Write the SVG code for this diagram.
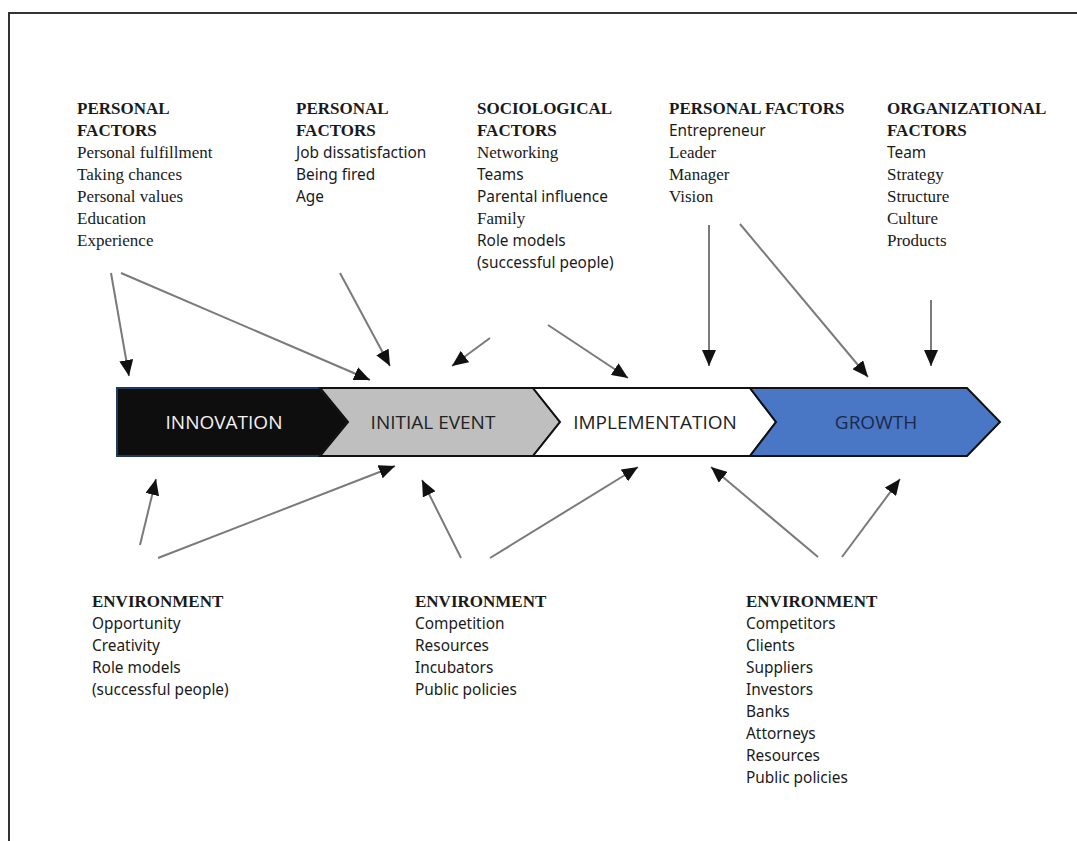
<svg xmlns="http://www.w3.org/2000/svg" width="1077" height="841" viewBox="0 0 1077 841">
<style>
.h{font-family:"Liberation Serif","Times New Roman",serif;font-weight:bold;font-size:17px;fill:#1a1a1a}
.s{font-family:"Liberation Serif","Times New Roman",serif;font-size:17px;fill:#1a1a1a}
.a{font-family:"Noto Sans","Liberation Sans",sans-serif;font-size:15.4px;fill:#1a1a1a}
.lbl{font-family:"Open Sans","Liberation Sans",sans-serif;font-size:19px;text-anchor:middle}
.c{stroke:#7a7a7a;stroke-width:2;fill:none;marker-end:url(#ah)}
</style>
<defs>
<marker id="ah" markerUnits="userSpaceOnUse" markerWidth="17" markerHeight="14" refX="16" refY="7" orient="auto">
<path d="M0,0 L16,7 L0,14 z" fill="#111"/>
</marker>
</defs>
<rect width="1077" height="841" fill="#fff"/>
<path d="M9,841 L9,13 L1077,13" fill="none" stroke="#333" stroke-width="2"/>

<g id="innovation">
<polygon points="117,388 320,388 348,422 320,456 117,456" fill="#0e0e0e" stroke="#1f3a5f" stroke-width="2"/>
<text class="lbl" x="224" y="429" fill="#f2f2f2">INNOVATION</text>
</g>
<g id="initial-event">
<polygon points="320,388 533,388 560,422 533,456 320,456 348,422" fill="#bfbfbf" stroke="#111" stroke-width="2"/>
<text class="lbl" x="433" y="429" fill="#222">INITIAL EVENT</text>
</g>
<g id="implementation">
<polygon points="533,388 750,388 776,422 750,456 533,456 560,422" fill="#fff" stroke="#111" stroke-width="2"/>
<text class="lbl" x="655" y="429" fill="#222">IMPLEMENTATION</text>
</g>
<g id="growth">
<polygon points="750,388 967,388 1000,422 967,456 750,456 776,422" fill="#4a76c6" stroke="#111" stroke-width="2"/>
<text class="lbl" x="876" y="429" fill="#1a2a4a">GROWTH</text>
</g>

<g id="personal-factors-1">
<text class="h" x="77" y="114">PERSONAL</text>
<text class="h" x="77" y="136">FACTORS</text>
<text class="s" x="77" y="158">Personal fulfillment</text>
<text class="s" x="77" y="180">Taking chances</text>
<text class="s" x="77" y="202">Personal values</text>
<text class="s" x="77" y="224">Education</text>
<text class="s" x="77" y="246">Experience</text>
</g>
<g id="personal-factors-2">
<text class="h" x="296" y="114">PERSONAL</text>
<text class="h" x="296" y="136">FACTORS</text>
<text class="a" x="296" y="158">Job dissatisfaction</text>
<text class="a" x="296" y="180">Being fired</text>
<text class="a" x="296" y="202">Age</text>
</g>
<g id="sociological-factors">
<text class="h" x="477" y="114">SOCIOLOGICAL</text>
<text class="h" x="477" y="136">FACTORS</text>
<text class="s" x="477" y="158">Networking</text>
<text class="a" x="477" y="180">Teams</text>
<text class="a" x="477" y="202">Parental influence</text>
<text class="s" x="477" y="224">Family</text>
<text class="a" x="477" y="246">Role models</text>
<text class="a" x="477" y="268">(successful people)</text>
</g>
<g id="personal-factors-3">
<text class="h" x="669" y="114">PERSONAL FACTORS</text>
<text class="a" x="669" y="136">Entrepreneur</text>
<text class="s" x="669" y="158">Leader</text>
<text class="s" x="669" y="180">Manager</text>
<text class="s" x="669" y="202">Vision</text>
</g>
<g id="organizational-factors">
<text class="h" x="887" y="114">ORGANIZATIONAL</text>
<text class="h" x="887" y="136">FACTORS</text>
<text class="a" x="887" y="158">Team</text>
<text class="s" x="887" y="180">Strategy</text>
<text class="s" x="887" y="202">Structure</text>
<text class="s" x="887" y="224">Culture</text>
<text class="s" x="887" y="246">Products</text>
</g>

<g id="environment-1">
<text class="h" x="92" y="607">ENVIRONMENT</text>
<text class="a" x="92" y="629">Opportunity</text>
<text class="a" x="92" y="651">Creativity</text>
<text class="a" x="92" y="673">Role models</text>
<text class="a" x="92" y="695">(successful people)</text>
</g>
<g id="environment-2">
<text class="h" x="415" y="607">ENVIRONMENT</text>
<text class="a" x="415" y="629">Competition</text>
<text class="a" x="415" y="651">Resources</text>
<text class="a" x="415" y="673">Incubators</text>
<text class="a" x="415" y="695">Public policies</text>
</g>
<g id="environment-3">
<text class="h" x="746" y="607">ENVIRONMENT</text>
<text class="a" x="746" y="629">Competitors</text>
<text class="a" x="746" y="651">Clients</text>
<text class="a" x="746" y="673">Suppliers</text>
<text class="a" x="746" y="695">Investors</text>
<text class="a" x="746" y="717">Banks</text>
<text class="a" x="746" y="739">Attorneys</text>
<text class="a" x="746" y="761">Resources</text>
<text class="a" x="746" y="783">Public policies</text>
</g>

<g id="connectors">
<line class="c" x1="111" y1="273" x2="129" y2="376"/>
<line class="c" x1="121" y1="273" x2="370" y2="380"/>
<line class="c" x1="340" y1="273" x2="390" y2="366"/>
<line class="c" x1="490" y1="338" x2="452" y2="366"/>
<line class="c" x1="548" y1="325" x2="628" y2="378"/>
<line class="c" x1="709" y1="225" x2="709" y2="366"/>
<line class="c" x1="740" y1="224" x2="868" y2="377"/>
<line class="c" x1="931" y1="300" x2="931" y2="366"/>
<line class="c" x1="140" y1="545" x2="156" y2="479"/>
<line class="c" x1="158" y1="558" x2="395" y2="466"/>
<line class="c" x1="461" y1="558" x2="422" y2="480"/>
<line class="c" x1="490" y1="558" x2="638" y2="467"/>
<line class="c" x1="818" y1="557" x2="711" y2="467"/>
<line class="c" x1="842" y1="557" x2="900" y2="479"/>
</g>
</svg>
